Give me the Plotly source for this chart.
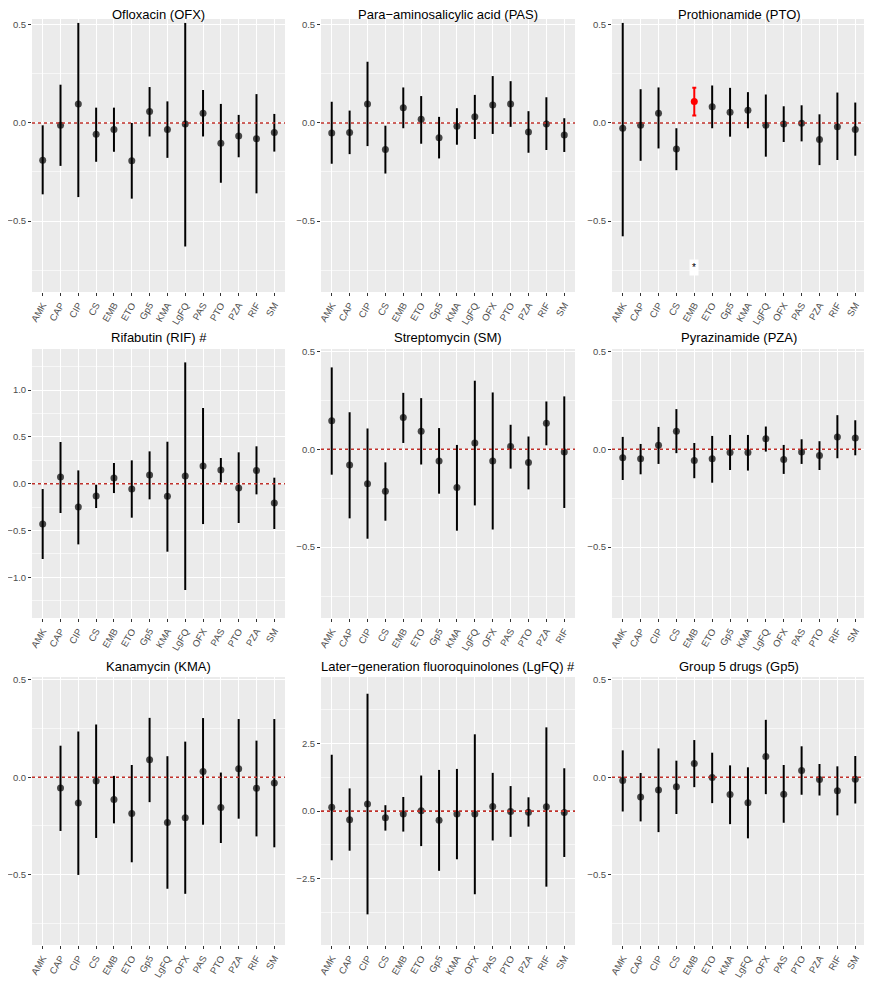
import plotly.graph_objects as go
from plotly.subplots import make_subplots

# Ofloxacin (OFX)
ofx_drugs = ["AMK", "CAP", "CIP", "CS", "EMB", "ETO", "Gp5", "KMA", "LgFQ", "PAS", "PTO", "PZA", "RIF", "SM"]
ofx_est = [-0.19, -0.012, 0.097, -0.058, -0.034, -0.193, 0.058, -0.034, -0.005, 0.049, -0.103, -0.066, -0.081, -0.049]
ofx_lo = [-0.364, -0.219, -0.378, -0.198, -0.147, -0.386, -0.069, -0.178, -0.63, -0.069, -0.305, -0.175, -0.359, -0.146]
ofx_hi = [-0.012, 0.195, 0.51, 0.078, 0.078, 0.0, 0.183, 0.110, 0.51, 0.168, 0.097, 0.041, 0.147, 0.046]

# Para-aminosalicylic acid (PAS)
pas_drugs = ["AMK", "CAP", "CIP", "CS", "EMB", "ETO", "Gp5", "KMA", "LgFQ", "OFX", "PTO", "PZA", "RIF", "SM"]
pas_est = [-0.051, -0.049, 0.097, -0.135, 0.077, 0.019, -0.075, -0.017, 0.031, 0.092, 0.097, -0.046, -0.005, -0.061]
pas_lo = [-0.208, -0.159, -0.118, -0.258, -0.027, -0.106, -0.181, -0.111, -0.082, -0.056, -0.020, -0.152, -0.138, -0.148]
pas_hi = [0.108, 0.063, 0.312, -0.014, 0.181, 0.137, 0.031, 0.075, 0.143, 0.239, 0.213, 0.060, 0.131, 0.024]

# Prothionamide (PTO)
pto_drugs = ["AMK", "CAP", "CIP", "CS", "EMB", "ETO", "Gp5", "KMA", "LgFQ", "OFX", "PAS", "PZA", "RIF", "SM"]
pto_est = [-0.027, -0.012, 0.049, -0.133, 0.109, 0.082, 0.055, 0.065, -0.012, -0.005, -0.002, -0.085, -0.019, -0.034]
pto_lo = [-0.578, -0.193, -0.130, -0.241, 0.038, -0.027, -0.070, -0.027, -0.172, -0.097, -0.094, -0.215, -0.189, -0.167]
pto_hi = [0.51, 0.172, 0.181, -0.027, 0.179, 0.191, 0.179, 0.157, 0.145, 0.085, 0.090, 0.044, 0.155, 0.104]
pto_signif = ["EMB"]

# Rifabutin (RIF) #
rif_drugs = ["AMK", "CAP", "CIP", "CS", "EMB", "ETO", "Gp5", "KMA", "LgFQ", "OFX", "PAS", "PTO", "PZA", "SM"]
rif_est = [-0.431, 0.071, -0.249, -0.132, 0.060, -0.057, 0.093, -0.135, 0.082, 0.189, 0.146, -0.046, 0.142, -0.206]
rif_lo = [-0.804, -0.313, -0.648, -0.260, -0.100, -0.363, -0.167, -0.726, -1.135, -0.431, 0.014, -0.420, -0.114, -0.484]
rif_hi = [-0.057, 0.445, 0.142, -0.011, 0.221, 0.249, 0.345, 0.448, 1.295, 0.808, 0.274, 0.335, 0.399, 0.064]

# Streptomycin (SM)
sm_drugs = ["AMK", "CAP", "CIP", "CS", "EMB", "ETO", "Gp5", "KMA", "LgFQ", "OFX", "PAS", "PTO", "PZA", "RIF"]
sm_est = [0.145, -0.080, -0.176, -0.215, 0.162, 0.092, -0.060, -0.196, 0.032, -0.060, 0.014, -0.068, 0.133, -0.014]
sm_lo = [-0.130, -0.353, -0.457, -0.365, 0.032, -0.078, -0.227, -0.416, -0.287, -0.410, -0.099, -0.205, 0.020, -0.300]
sm_hi = [0.418, 0.189, 0.106, -0.067, 0.288, 0.261, 0.108, 0.022, 0.350, 0.290, 0.125, 0.065, 0.244, 0.270]

# Pyrazinamide (PZA)
pza_drugs = ["AMK", "CAP", "CIP", "CS", "EMB", "ETO", "Gp5", "KMA", "LgFQ", "OFX", "PAS", "PTO", "RIF", "SM"]
pza_est = [-0.044, -0.049, 0.020, 0.092, -0.058, -0.049, -0.017, -0.017, 0.053, -0.053, -0.014, -0.032, 0.063, 0.058]
pza_lo = [-0.157, -0.128, -0.075, -0.020, -0.148, -0.171, -0.106, -0.109, -0.012, -0.126, -0.075, -0.106, -0.046, -0.031]
pza_hi = [0.063, 0.027, 0.114, 0.205, 0.032, 0.068, 0.073, 0.073, 0.116, 0.022, 0.051, 0.041, 0.174, 0.148]

# Kanamycin (KMA)
kma_drugs = ["AMK", "CAP", "CIP", "CS", "EMB", "ETO", "Gp5", "LgFQ", "OFX", "PAS", "PTO", "PZA", "RIF", "SM"]
kma_est = [None, -0.055, -0.133, -0.020, -0.114, -0.186, 0.090, -0.232, -0.208, 0.029, -0.155, 0.044, -0.056, -0.029]
kma_lo = [None, -0.276, -0.502, -0.312, -0.237, -0.437, -0.128, -0.573, -0.599, -0.244, -0.338, -0.213, -0.304, -0.360]
kma_hi = [None, 0.162, 0.235, 0.271, 0.007, 0.063, 0.305, 0.108, 0.183, 0.304, 0.024, 0.299, 0.188, 0.299]

# Later-generation fluoroquinolones (LgFQ) #
lgfq_drugs = ["AMK", "CAP", "CIP", "CS", "EMB", "ETO", "Gp5", "KMA", "OFX", "PAS", "PTO", "PZA", "RIF", "SM"]
lgfq_est = [0.146, -0.317, 0.268, -0.244, -0.110, 0.012, -0.341, -0.110, -0.110, 0.171, -0.012, -0.037, 0.159, -0.049]
lgfq_lo = [-1.817, -1.463, -3.817, -0.720, -0.756, -1.293, -2.207, -1.780, -3.073, -1.085, -0.951, -0.573, -2.793, -1.695]
lgfq_hi = [2.085, 0.841, 4.341, 0.220, 0.524, 1.317, 1.524, 1.561, 2.841, 1.415, 0.927, 0.512, 3.098, 1.585]

# Group 5 drugs (Gp5)
gp5_drugs = ["AMK", "CAP", "CIP", "CS", "EMB", "ETO", "KMA", "LgFQ", "OFX", "PAS", "PTO", "PZA", "RIF", "SM"]
gp5_est = [-0.017, -0.101, -0.065, -0.049, 0.070, -0.002, -0.089, -0.131, 0.106, -0.087, 0.034, -0.012, -0.070, -0.010]
gp5_lo = [-0.176, -0.227, -0.282, -0.189, -0.051, -0.133, -0.241, -0.314, -0.087, -0.234, -0.090, -0.094, -0.196, -0.135]
gp5_hi = [0.138, 0.022, 0.148, 0.085, 0.191, 0.126, 0.061, 0.051, 0.295, 0.063, 0.159, 0.068, 0.056, 0.109]

panels = [
    ("Ofloxacin (OFX)", ofx_drugs, ofx_est, ofx_lo, ofx_hi, []),
    ("Para\u2212aminosalicylic acid (PAS)", pas_drugs, pas_est, pas_lo, pas_hi, []),
    ("Prothionamide (PTO)", pto_drugs, pto_est, pto_lo, pto_hi, pto_signif),
    ("Rifabutin (RIF) #", rif_drugs, rif_est, rif_lo, rif_hi, []),
    ("Streptomycin (SM)", sm_drugs, sm_est, sm_lo, sm_hi, []),
    ("Pyrazinamide (PZA)", pza_drugs, pza_est, pza_lo, pza_hi, []),
    ("Kanamycin (KMA)", kma_drugs, kma_est, kma_lo, kma_hi, []),
    ("Later\u2212generation fluoroquinolones (LgFQ) #", lgfq_drugs, lgfq_est, lgfq_lo, lgfq_hi, []),
    ("Group 5 drugs (Gp5)", gp5_drugs, gp5_est, gp5_lo, gp5_hi, []),
]

# page body has an 8px margin, so the figure is a bit smaller than the window
OFF = 8
W, H = 872 - OFF, 981 - OFF
col_px = [(32, 285), (321, 575), (612, 866)]
row_px = [(19, 292), (349, 618), (677, 945)]
title_px = [15, 338, 666]

yranges = [[-0.862, 0.53], [-0.862, 0.53], [-0.862, 0.53],
           [-1.434, 1.438], [-0.862, 0.512], [-0.862, 0.512],
           [-0.862, 0.515], [-4.95, 4.96], [-0.862, 0.515]]
ydticks = [0.5, 0.5, 0.5, 0.5, 0.5, 0.5, 0.5, 2.5, 0.5]

font = "Liberation Sans, Arial, sans-serif"
fig = make_subplots(rows=3, cols=3)

for i, (title, drugs, est, lo, hi, signif) in enumerate(panels):
    r, c = i // 3 + 1, i % 3 + 1
    groups = [(False, "rgba(0,0,0,0.7)", "black", 0),
              (True, "#FF0000", "#FF0000", 2)]
    for is_sig, mcol, lcol, capw in groups:
        xs, ys, up, dn = [], [], [], []
        for d, e, l, h in zip(drugs, est, lo, hi):
            if e is None or (d in signif) != is_sig:
                continue
            xs.append(d)
            ys.append(e)
            up.append(h - e)
            dn.append(e - l)
        if not xs:
            continue
        fig.add_trace(go.Scatter(
            x=xs, y=ys, mode="markers",
            marker=dict(color=mcol, size=7),
            error_y=dict(type="data", array=up, arrayminus=dn, color=lcol,
                         thickness=2, width=capw),
            showlegend=False, hoverinfo="skip"), row=r, col=c)
    fig.add_hline(y=0, line=dict(color="#C0302A", dash="dot", width=1.6),
                  row=r, col=c)

    x0, x1 = [p - OFF for p in col_px[c - 1]]
    y0, y1 = [p - OFF for p in row_px[r - 1]]
    fig.update_xaxes(domain=[x0 / W, x1 / W], type="category",
                     categoryorder="array", categoryarray=drugs,
                     range=[-0.6, len(drugs) - 0.4], automargin=False,
                     showgrid=True, gridcolor="white", gridwidth=1.1,
                     ticks="outside", ticklen=3, tickcolor="#333333",
                     tickangle=-60, tickfont=dict(size=9.5, color="#4D4D4D"),
                     showline=False, zeroline=False, row=r, col=c)
    dt = ydticks[i]
    fig.update_yaxes(domain=[1 - y1 / H, 1 - y0 / H], range=yranges[i],
                     tick0=0, dtick=dt, tickformat=".1f", automargin=False,
                     showgrid=True, gridcolor="white", gridwidth=1.1,
                     minor=dict(dtick=dt / 2, tick0=0, showgrid=True,
                                gridcolor="#F7F7F7", gridwidth=0.6, ticks=""),
                     ticks="outside", ticklen=3, tickcolor="#333333",
                     tickfont=dict(size=9.5, color="#4D4D4D"),
                     showline=False, zeroline=False, row=r, col=c)

    fig.add_annotation(text=title, x=(x0 + x1) / 2 / W,
                       y=1 - (title_px[r - 1] - OFF) / H,
                       xref="paper", yref="paper", xanchor="center",
                       yanchor="middle", showarrow=False,
                       font=dict(size=13, color="black"))

    for d in signif:
        ax = "" if i == 0 else str(i + 1)
        ylo, yhi = yranges[i]
        fig.add_annotation(text="*", x=d, y=ylo + 0.09 * (yhi - ylo),
                           xref="x" + ax, yref="y" + ax, showarrow=False,
                           bgcolor="white", borderpad=2,
                           font=dict(size=10, color="black"))

fig.update_layout(width=W, height=H, margin=dict(l=0, r=0, t=0, b=0),
                  paper_bgcolor="white", plot_bgcolor="#EBEBEB",
                  font=dict(family=font))
fig.write_html("out.html")
